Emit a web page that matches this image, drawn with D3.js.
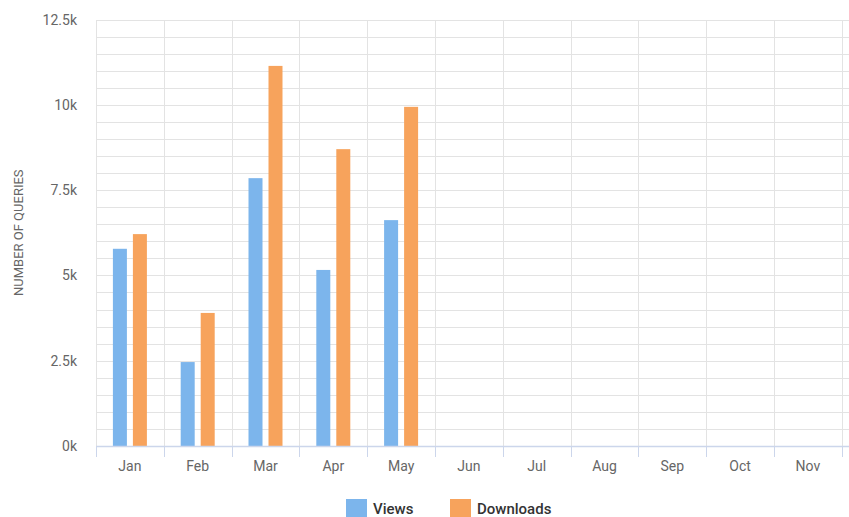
<!DOCTYPE html>
<html lang="en">
<head>
    <meta charset="UTF-8">
    <title>Queries per month</title>
    <style>
        body { margin: 0; background: #fff; }
        svg { display: block; font-family: Roboto, "Liberation Sans", sans-serif; }
        .grid line { stroke: #e3e3e3; stroke-width: 1px; shape-rendering: crispEdges; }
        .tickLabel { fill: #666; font-size: 14px; font-weight: 400; }
        .axisTitle { fill: #666; font-size: 13px; font-weight: 400; }
        .legend text { fill: #333; font-size: 15px; font-weight: 500; }
    </style>
    <script src="https://d3js.org/d3.v7.min.js"></script>
</head>
<body>
<div class="container"></div>
<script>
    const months = ["Jan", "Feb", "Mar", "Apr", "May", "Jun", "Jul", "Aug", "Sep", "Oct", "Nov", "Dec"];
    const views = [5780, 2460, 7850, 5160, 6620];
    const downloads = [6210, 3900, 11140, 8700, 9940];
    const yTicks = [0, 2500, 5000, 7500, 10000, 12500];
    const seriesNames = ["Views", "Downloads"];
    const seriesColors = ["#7cb5ec", "#f7a35c"];

    const width = 849, height = 517;
    const margin = {top: 19.5, left: 96, bottom: 446};
    const bandW = 67.8;

    const svg = d3.select(".container").append("svg")
        .attr("width", width)
        .attr("height", height);

    const x = d3.scaleBand()
        .domain(months)
        .range([margin.left, margin.left + bandW * months.length]);

    const y = d3.scaleLinear()
        .domain([0, 12500])
        .range([margin.bottom, margin.top]);

    // horizontal grid, every 500
    const grid = svg.append("g").attr("class", "grid");
    grid.selectAll(".h")
        .data(d3.range(500, 12501, 500))
        .join("line")
        .attr("x1", margin.left).attr("x2", width)
        .attr("y1", d => Math.round(y(d)) + 0.5)
        .attr("y2", d => Math.round(y(d)) + 0.5);

    // vertical grid at category edges
    grid.selectAll(".v")
        .data(months)
        .join("line")
        .attr("x1", d => Math.round(x(d)) + 0.5)
        .attr("x2", d => Math.round(x(d)) + 0.5)
        .attr("y1", y(12500))
        .attr("y2", margin.bottom);

    // bars
    const sub = d3.scaleBand().domain([0, 1]).range([-17, 17]).paddingInner(0.3);
    [views, downloads].forEach((vals, s) => {
        svg.append("g").selectAll("rect")
            .data(vals)
            .join("rect")
            .attr("x", (d, i) => x(months[i]) + x.bandwidth() / 2 + sub(s))
            .attr("width", sub.bandwidth())
            .attr("y", d => y(d))
            .attr("height", d => y(0) - y(d))
            .attr("fill", seriesColors[s]);
    });

    // x axis
    const xAxis = svg.append("g").attr("transform", `translate(0, ${margin.bottom})`);
    xAxis.append("line")
        .attr("x1", margin.left).attr("x2", width)
        .attr("y1", 0.5).attr("y2", 0.5)
        .attr("stroke", "#ccd6eb").attr("stroke-width", 1.5);
    xAxis.selectAll(".tick")
        .data(months)
        .join("line")
        .attr("x1", d => Math.round(x(d)) + 0.5)
        .attr("x2", d => Math.round(x(d)) + 0.5)
        .attr("y1", 0).attr("y2", 11)
        .attr("stroke", "#ccd6eb");
    // only months whose label fits inside the view (Dec runs off the edge)
    xAxis.selectAll("text")
        .data(months.filter(m => x(m) + x.bandwidth() < width))
        .join("text")
        .attr("class", "tickLabel")
        .attr("x", d => x(d) + x.bandwidth() / 2)
        .attr("y", 25)
        .attr("text-anchor", "middle")
        .text(d => d);

    // y labels
    svg.append("g").selectAll("text")
        .data(yTicks)
        .join("text")
        .attr("class", "tickLabel")
        .attr("x", 77)
        .attr("y", d => y(d) + 5)
        .attr("text-anchor", "end")
        .text(d => d3.format(".3~")(d / 1000) + "k");

    svg.append("text")
        .attr("class", "axisTitle")
        .attr("transform", `translate(23, ${(margin.top + margin.bottom) / 2}) rotate(-90)`)
        .attr("text-anchor", "middle")
        .text("NUMBER OF QUERIES");

    // legend
    const legend = svg.append("g").attr("class", "legend");
    const legendX = [346, 450];
    seriesNames.forEach((name, i) => {
        legend.append("rect")
            .attr("x", legendX[i]).attr("y", 499)
            .attr("width", 21).attr("height", 18)
            .attr("fill", seriesColors[i]);
        legend.append("text")
            .attr("x", legendX[i] + 27).attr("y", 514)
            .text(name);
    });
</script>
</body>
</html>
